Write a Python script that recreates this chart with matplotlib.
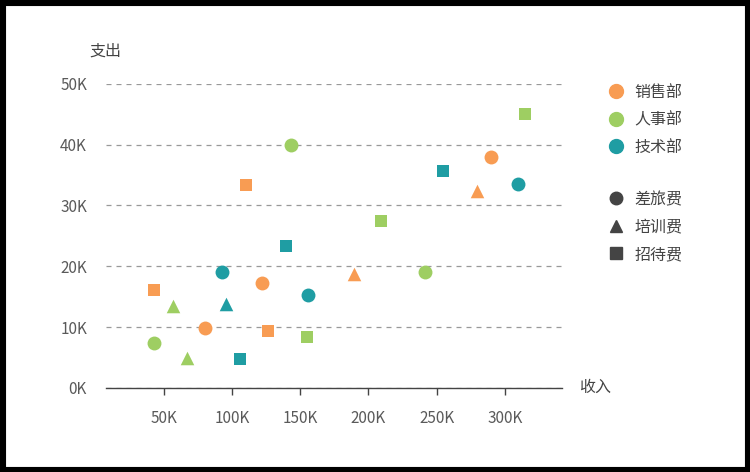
import matplotlib
matplotlib.use('Agg')
import matplotlib.pyplot as plt
from matplotlib.lines import Line2D
from matplotlib.patches import Rectangle
from matplotlib.ticker import FuncFormatter

plt.rcParams['font.family'] = ['Noto Sans CJK SC', 'DejaVu Sans']
plt.rcParams['font.weight'] = 'light'

# 部门 / 费用类型
departments = ['销售部', '人事部', '技术部']
expense_types = ['差旅费', '培训费', '招待费']
dept_colors = ['#F89C53', '#9ECE62', '#1F9DA3']
type_markers = ['o', '^', 's']

# 收入 (K), 支出 (K), 费用类型
sales_income = [42.6, 109.9, 80.0, 121.9, 126.3, 189.6, 279.4, 289.9]
sales_expense = [16.1, 33.4, 9.9, 17.2, 9.4, 18.8, 32.4, 37.9]
sales_type = ['招待费', '招待费', '差旅费', '差旅费', '招待费', '培训费', '培训费', '差旅费']

hr_income = [42.6, 56.6, 66.9, 142.9, 154.9, 209.0, 241.3, 314.7]
hr_expense = [7.3, 13.5, 4.9, 40.0, 8.3, 27.5, 19.1, 45.0]
hr_type = ['差旅费', '培训费', '培训费', '差旅费', '招待费', '招待费', '差旅费', '招待费']

tech_income = [92.5, 95.5, 105.7, 139.3, 155.7, 254.4, 309.9]
tech_expense = [19.1, 13.8, 4.8, 23.4, 15.2, 35.7, 33.5]
tech_type = ['差旅费', '培训费', '招待费', '招待费', '差旅费', '招待费', '差旅费']

dept_data = [
    (sales_income, sales_expense, sales_type),
    (hr_income, hr_expense, hr_type),
    (tech_income, tech_expense, tech_type),
]

marker_sizes = {'o': 100, '^': 95, 's': 72}
text_color = '#5a5a5a'

fig = plt.figure(figsize=(7.5, 4.72), dpi=100)
ax = fig.add_axes([0.142, 0.1784, 0.607, 0.644])

for (xs, ys, ts), color in zip(dept_data, dept_colors):
    for etype, marker in zip(expense_types, type_markers):
        px = [x * 1000 for x, t in zip(xs, ts) if t == etype]
        py = [y * 1000 for y, t in zip(ys, ts) if t == etype]
        ax.scatter(px, py, s=marker_sizes[marker], marker=marker, color=color,
                   linewidths=0, zorder=3, clip_on=False)

ax.set_xlim(7800, 341800)
ax.set_ylim(0, 50000)
ax.set_xticks([50000, 100000, 150000, 200000, 250000, 300000])
ax.set_yticks([0, 10000, 20000, 30000, 40000, 50000])
fmt = FuncFormatter(lambda v, p: '%dK' % round(v / 1000))
ax.xaxis.set_major_formatter(fmt)
ax.yaxis.set_major_formatter(fmt)

for side in ['top', 'right', 'left']:
    ax.spines[side].set_visible(False)
ax.spines['bottom'].set_color('#444444')
ax.spines['bottom'].set_linewidth(1.0)

ax.grid(axis='y', linestyle=(0, (4, 4)), color='#999999', linewidth=0.9)
ax.set_axisbelow(True)
ax.tick_params(axis='x', direction='out', length=5, width=1, color='#444444',
               labelsize=11, labelcolor=text_color, pad=11)
ax.tick_params(axis='y', length=0, labelsize=11, labelcolor=text_color, pad=14)

fig.text(89 / 750, 1 - 51 / 472, '支出', fontsize=11.5, color='#444444',
         ha='left', va='center')
fig.text(579 / 750, 1 - 387 / 472, '收入', fontsize=11.5, color='#444444',
         ha='left', va='center')

dept_handles = [Line2D([], [], marker='o', linestyle='', color=c, markersize=10)
                for c in dept_colors]
type_handles = [Line2D([], [], marker=m, linestyle='', color='#444444',
                       markersize=9 if m != 's' else 8)
                for m in type_markers]
leg_kw = dict(loc='upper left', frameon=False, fontsize=11.5, labelspacing=0.66,
              handletextpad=0.6, handlelength=1.2, borderpad=0)
leg1 = fig.legend(dept_handles, departments, bbox_to_anchor=(598 / 750, 1 - 76 / 472), **leg_kw)
leg2 = fig.legend(type_handles, expense_types, bbox_to_anchor=(598 / 750, 1 - 183 / 472), **leg_kw)
for leg in (leg1, leg2):
    for t in leg.get_texts():
        t.set_color('#444444')

fig.add_artist(Rectangle((0, 0), 1, 1, transform=fig.transFigure, fill=False,
                         edgecolor='black', linewidth=8))

fig.savefig('out.png', dpi=100)
